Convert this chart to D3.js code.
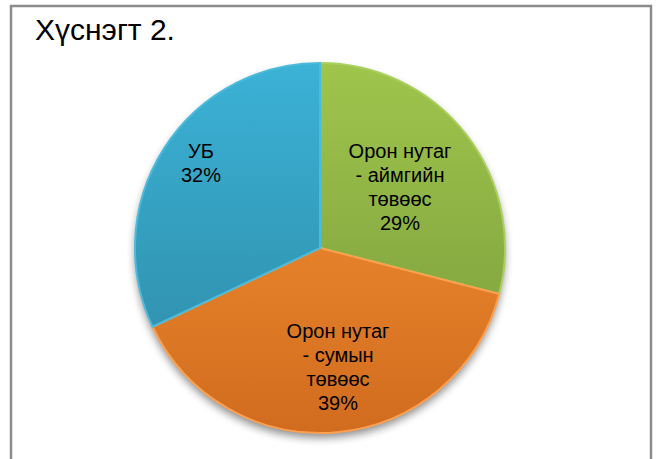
<!DOCTYPE html>
<html>
<head>
<meta charset="UTF-8">
<title>Хүснэгт 2.</title>
<script src="https://d3js.org/d3.v7.min.js"></script>
<style>
  * { margin: 0; padding: 0; box-sizing: border-box; }
  body { background: #fff; font-family: "Liberation Sans", Arial, sans-serif; }
</style>
</head>
<body>
<div id="chart"></div>
<script>
  // data
  const labels = [["Орон нутаг", "- аймгийн", "төвөөс"], ["Орон нутаг", "- сумын", "төвөөс"], ["УБ"]];
  const values = [29, 39, 32];
  const colorTop = ["#9fc54c", "#fa9535", "#3bb2d6"];
  const colorBottom = ["#77983a", "#d16c1f", "#2d87a2"];
  const colorEdge = ["#a9cf5c", "#fca050", "#4cbadb"];

  const W = 661, H = 459;
  const cx = 320, cy = 248, r = 185;

  const svg = d3.select("#chart").append("svg")
    .attr("width", W).attr("height", H);

  const defs = svg.append("defs");

  // frame
  svg.append("rect")
    .attr("x", 11).attr("y", 6)
    .attr("width", 640).attr("height", 470)
    .attr("fill", "#fff")
    .attr("stroke", "#8c8c8c")
    .attr("stroke-width", 2.5);

  svg.append("text")
    .attr("x", 35).attr("y", 40)
    .style("font-size", "30px")
    .attr("fill", "#000")
    .text("Хүснэгт 2.");

  // shadow
  const f = defs.append("filter").attr("id", "sh")
    .attr("x", "-20%").attr("y", "-20%").attr("width", "140%").attr("height", "140%");
  f.append("feGaussianBlur").attr("in", "SourceAlpha").attr("stdDeviation", 4);
  f.append("feOffset").attr("dy", 5).attr("result", "b");
  f.append("feComponentTransfer").append("feFuncA").attr("type", "linear").attr("slope", 0.45);
  const fm = f.append("feMerge");
  fm.append("feMergeNode");
  fm.append("feMergeNode").attr("in", "SourceGraphic");

  values.forEach((v, i) => {
    const g = defs.append("linearGradient").attr("id", "g" + i)
      .attr("gradientUnits", "userSpaceOnUse")
      .attr("x1", 0).attr("y1", -r).attr("x2", 0).attr("y2", r);
    g.append("stop").attr("offset", "0%").attr("stop-color", colorTop[i]);
    g.append("stop").attr("offset", "100%").attr("stop-color", colorBottom[i]);
  });

  const pie = d3.pie().sort(null).value(d => d);
  const arcs = pie(values);
  const arc = d3.arc().innerRadius(0).outerRadius(r);

  const g = svg.append("g").attr("transform", `translate(${cx},${cy})`);

  g.append("circle").attr("r", r).attr("fill", "#fff").attr("filter", "url(#sh)");

  g.selectAll("path.slice")
    .data(arcs)
    .enter()
    .append("path")
    .attr("class", "slice")
    .attr("d", arc)
    .attr("fill", (d, i) => `url(#g${i})`)
    .attr("stroke", (d, i) => colorEdge[i])
    .attr("stroke-width", 2)
    .attr("stroke-linejoin", "round");

  // label positions (relative to centre)
  const labelPos = [[80, -90], [18, 90], [-119, -90]];
  const lh = 24;

  arcs.forEach((d, i) => {
    const lines = labels[i].concat([Math.round(d.data) + "%"]);
    const t = g.append("text")
      .attr("text-anchor", "middle")
      .style("font-size", "20px")
      .attr("fill", "#000");
    lines.forEach((ln, k) => {
      t.append("tspan")
        .attr("x", labelPos[i][0])
        .attr("y", labelPos[i][1] + k * lh)
        .text(ln);
    });
  });
</script>
</body>
</html>
